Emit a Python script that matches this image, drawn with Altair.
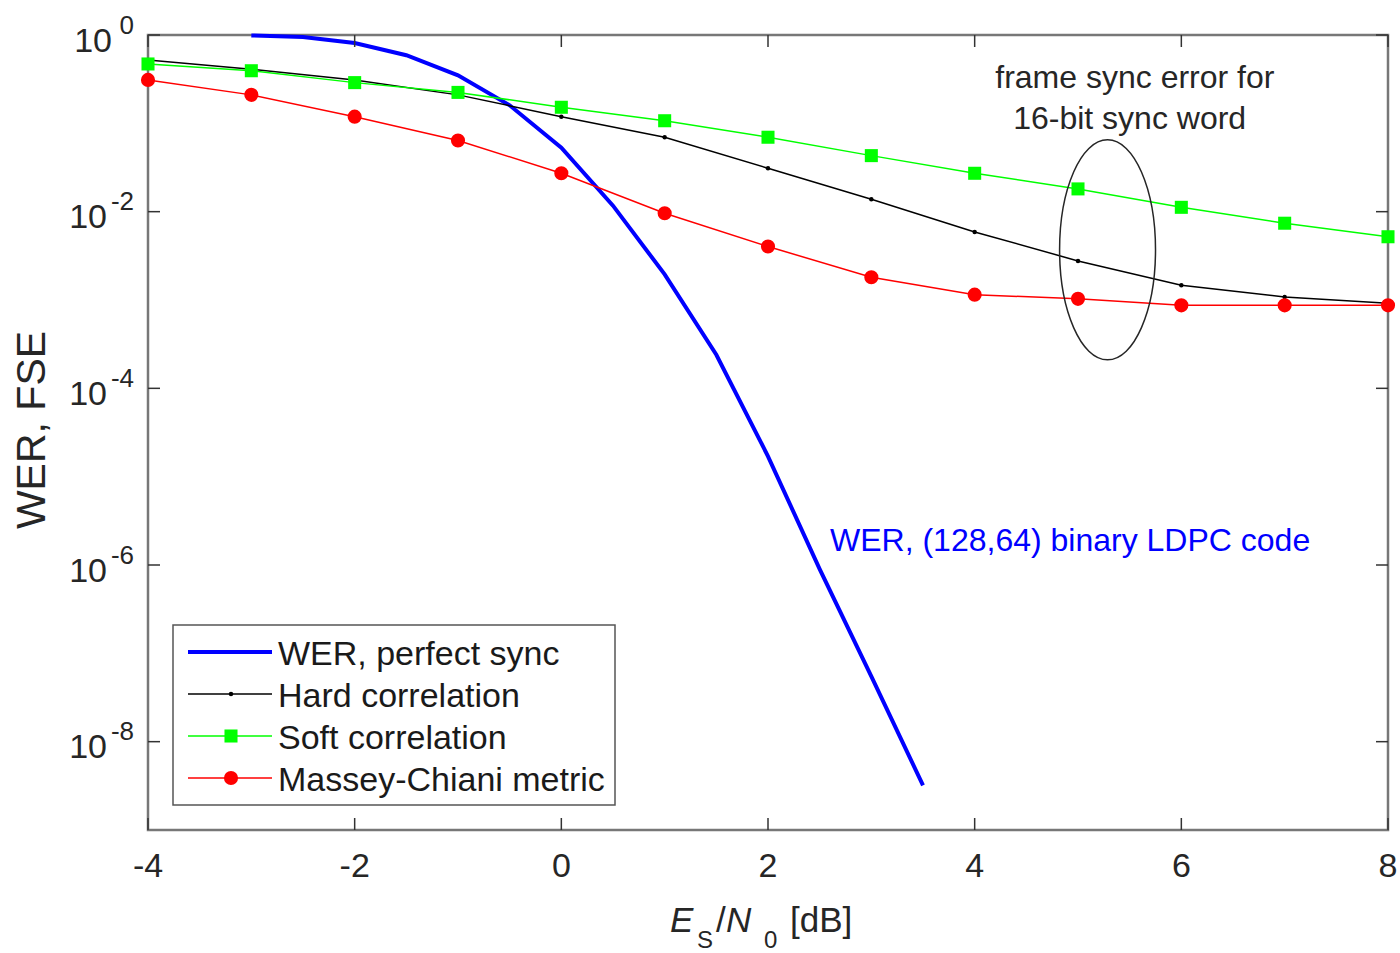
import altair as alt
import pandas as pd

# ---------------- data ----------------
x_db = [-4, -3, -2, -1, 0, 1, 2, 3, 4, 5, 6, 7, 8]
hard_corr = [0.52, 0.41, 0.31, 0.21, 0.119, 0.0696, 0.031, 0.0138, 0.0059,
             0.00277, 0.00147, 0.00108, 0.00092]
soft_corr = [0.47, 0.394, 0.289, 0.224, 0.152, 0.107, 0.0696, 0.0431, 0.0272,
             0.0181, 0.0112, 0.0074, 0.0052]
massey = [0.31, 0.21, 0.119, 0.064, 0.0272, 0.0096, 0.00403, 0.00181, 0.00115,
          0.00103, 0.00087, 0.00087, 0.00087]

wer_x = [-3, -2.5, -2, -1.5, -1, -0.5, 0, 0.5, 1, 1.5, 2, 2.5, 3, 3.5]
wer_perfect = [0.99, 0.95, 0.81, 0.59, 0.35, 0.16, 0.053, 0.0117, 0.00195,
               2.4e-4, 1.7e-5, 9e-7, 5.5e-8, 3.2e-9]

x_ticks = [-4, -2, 0, 2, 4, 6, 8]
y_ticks = [1e-8, 1e-6, 1e-4, 1e-2, 1]

legend_labels = ["WER, perfect sync", "Hard correlation", "Soft correlation",
                 "Massey-Chiani metric"]
note_lines = ["frame sync error for", "16-bit sync word"]
note_x = [5.55, 5.50]
note_y = [10 ** -0.60, 10 ** -1.063]
ldpc_label = "WER, (128,64) binary LDPC code"
ldpc_x = [2.60]
ldpc_y = [10 ** -5.837]
ellipse_x = [5.286]
ellipse_y = [10 ** -2.432]

# ---------------- layout / style ----------------
W, H = 1240, 795
FONT = "Liberation Sans"
TXT = "#262626"
BLUE, GREEN, RED = "#0000ff", "#00ff00", "#ff0000"

xs = alt.Scale(domain=[-4, 8], nice=False, zero=False)
ys = alt.Scale(type="log", domain=[1e-9, 1], nice=False)

x_axis = alt.Axis(values=x_ticks, grid=True, gridColor="#e0e0e0", gridWidth=1.5,
                  domain=False, ticks=False, labels=False, title=None)
y_axis = alt.Axis(values=y_ticks, grid=True, gridColor="#e0e0e0", gridWidth=1.5,
                  domain=False, ticks=False, labels=False, title=None)


def series_df(xv, yv):
    return pd.DataFrame({"x": xv, "y": yv})


def X(axis=None):
    return alt.X("x:Q", scale=xs, axis=axis)


def Y(axis=None):
    return alt.Y("y:Q", scale=ys, axis=axis)


layers = []

# blue line carries the grid
blue = alt.Chart(series_df(wer_x, wer_perfect)).mark_line(
    color=BLUE, strokeWidth=4, clip=False).encode(x=X(x_axis), y=Y(y_axis))
layers.append(blue)

# inward ticks on all four sides
xt = pd.DataFrame({"x": x_ticks})
yt = pd.DataFrame({"y": y_ticks})
tick_style = dict(color="#333333", strokeWidth=1.5)
layers.append(alt.Chart(xt).mark_rule(**tick_style).encode(
    x=X(), y=alt.value(H), y2=alt.value(H - 12)))
layers.append(alt.Chart(xt).mark_rule(**tick_style).encode(
    x=X(), y=alt.value(0), y2=alt.value(12)))
layers.append(alt.Chart(yt).mark_rule(**tick_style).encode(
    y=Y(), x=alt.value(0), x2=alt.value(12)))
layers.append(alt.Chart(yt).mark_rule(**tick_style).encode(
    y=Y(), x=alt.value(W - 12), x2=alt.value(W)))

# hard correlation
hdf = series_df(x_db, hard_corr)
layers.append(alt.Chart(hdf).mark_line(color="black", strokeWidth=1.5, clip=False).encode(x=X(), y=Y()))
layers.append(alt.Chart(hdf).mark_point(shape="circle", filled=True, size=20, color="black",
                                        opacity=1, clip=False).encode(x=X(), y=Y()))
# soft correlation
sdf = series_df(x_db, soft_corr)
layers.append(alt.Chart(sdf).mark_line(color=GREEN, strokeWidth=1.5, clip=False).encode(x=X(), y=Y()))
layers.append(alt.Chart(sdf).mark_point(shape="square", filled=True, size=170, color=GREEN,
                                        opacity=1, clip=False).encode(x=X(), y=Y()))
# Massey-Chiani
mdf = series_df(x_db, massey)
layers.append(alt.Chart(mdf).mark_line(color=RED, strokeWidth=1.5, clip=False).encode(x=X(), y=Y()))
layers.append(alt.Chart(mdf).mark_point(shape="circle", filled=True, size=200, color=RED,
                                        opacity=1, clip=False).encode(x=X(), y=Y()))

# ellipse annotation (custom symbol shape)
ell_path = "M0,-1A0.436,1,0,1,1,0,1A0.436,1,0,1,1,0,-1Z"
layers.append(alt.Chart(series_df(ellipse_x, ellipse_y)).mark_point(
    shape=ell_path, size=220 * 220, filled=False, color="#262626", strokeWidth=1.5,
    opacity=1).encode(x=X(), y=Y()))

# text annotations
ndf = pd.DataFrame({"x": note_x, "y": note_y, "t": note_lines})
layers.append(alt.Chart(ndf).mark_text(font=FONT, fontSize=32, color=TXT, align="center",
                                       baseline="alphabetic").encode(x=X(), y=Y(), text="t:N"))
ldf = pd.DataFrame({"x": ldpc_x, "y": ldpc_y, "t": [ldpc_label]})
layers.append(alt.Chart(ldf).mark_text(font=FONT, fontSize=32, color=BLUE, align="left",
                                       baseline="alphabetic").encode(x=X(), y=Y(), text="t:N"))

# x tick labels
layers.append(alt.Chart(xt).transform_calculate(lab="'' + datum.x").mark_text(
    font=FONT, fontSize=34, color=TXT, align="center", baseline="alphabetic").encode(
    x=X(), y=alt.value(H + 47), text="lab:N"))

# y tick labels: "10" with superscript exponent
ylab = alt.Chart(yt).transform_calculate(
    e="'' + round(log(datum.y) / LN10)",
    tx="datum.e == '0' ? -36 : -41",
)
layers.append(ylab.mark_text(font=FONT, fontSize=34, color=TXT, align="right",
                             baseline="alphabetic", dy=16.5).encode(
    y=Y(), x=alt.X("tx:Q", scale=None), text=alt.value("10")))
layers.append(ylab.mark_text(font=FONT, fontSize=26, color=TXT, align="right",
                             baseline="alphabetic", dy=-1.5).encode(
    y=Y(), x=alt.value(-14), text="e:N"))

# legend
one = pd.DataFrame({"k": [0]})
layers.append(alt.Chart(one).mark_rect(fill="white", stroke="#555555", strokeWidth=1.5).encode(
    x=alt.value(25), x2=alt.value(467), y=alt.value(590), y2=alt.value(770)))
leg_styles = [
    dict(color=BLUE, width=4, shape=None, size=0),
    dict(color="black", width=1.5, shape="circle", size=20),
    dict(color=GREEN, width=1.5, shape="square", size=170),
    dict(color=RED, width=1.5, shape="circle", size=200),
]
for i, (lab, st) in enumerate(zip(legend_labels, leg_styles)):
    yrow = 617 + 42 * i
    layers.append(alt.Chart(one).mark_rule(color=st["color"], strokeWidth=st["width"]).encode(
        x=alt.value(40), x2=alt.value(124), y=alt.value(yrow)))
    if st["shape"]:
        layers.append(alt.Chart(one).mark_point(shape=st["shape"], filled=True, size=st["size"],
                                                color=st["color"], opacity=1).encode(
            x=alt.value(83), y=alt.value(yrow)))
    layers.append(alt.Chart(pd.DataFrame({"t": [lab]})).mark_text(
        font=FONT, fontSize=34, color="#1a1a1a", align="left", baseline="alphabetic").encode(
        x=alt.value(130), y=alt.value(yrow + 13), text="t:N"))

# x-axis title: E_S / N_0 [dB]
def piece(txt, px, py, size, italic=False):
    kw = dict(font=FONT, fontSize=size, color=TXT, align="left", baseline="alphabetic")
    if italic:
        kw["fontStyle"] = "italic"
    return alt.Chart(pd.DataFrame({"t": [txt]})).mark_text(**kw).encode(
        x=alt.value(px), y=alt.value(py), text="t:N")

layers.append(piece("E", 522, 897, 35, italic=True))
layers.append(piece("S", 549, 913, 24))
layers.append(piece("/", 568, 897, 35))
layers.append(piece("N", 578, 897, 35, italic=True))
layers.append(piece("0", 616, 913, 24))
layers.append(piece("[dB]", 642, 897, 35))

# y-axis title
layers.append(alt.Chart(pd.DataFrame({"t": ["WER, FSE"]})).mark_text(
    font=FONT, fontSize=41, color=TXT, align="center", baseline="middle", angle=270).encode(
    x=alt.value(-115), y=alt.value(395), text="t:N"))

chart = alt.layer(*layers).properties(
    width=W, height=H,
    padding={"left": 148, "top": 35, "right": 12, "bottom": 123},
    autosize=alt.AutoSizeParams(type="none"),
    background="white",
).configure_view(stroke="#777777", strokeWidth=2.5)

chart.save("out.html", embed_options={"renderer": "svg", "actions": False})
